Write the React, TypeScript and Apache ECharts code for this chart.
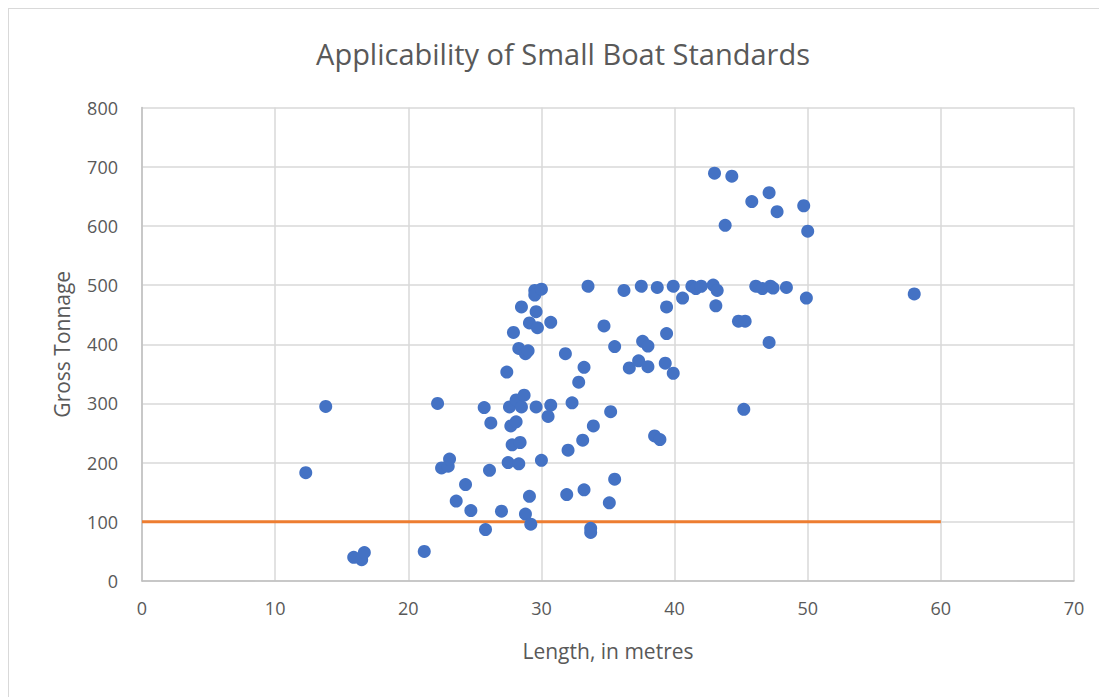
import React, { useEffect, useRef } from "react";
import * as echarts from "echarts";

const TITLE = "Applicability of Small Boat Standards";
const X_NAME = "Length, in metres";
const Y_NAME = "Gross Tonnage";

const lengths = [
  12.3, 13.8, 15.9, 16.5, 16.7, 21.2, 22.2, 22.5, 23.0, 23.1, 23.6, 24.3, 24.7, 25.7, 25.8, 26.1,
  26.2, 27.0, 27.4, 27.5, 27.6, 27.7, 27.8, 27.9, 28.1, 28.1, 28.3, 28.3, 28.4, 28.5, 28.5, 28.7,
  28.8, 28.8, 29.0, 29.1, 29.1, 29.2, 29.5, 29.5, 29.6, 29.6, 29.7, 30.0, 30.0, 30.5, 30.7, 30.7,
  31.8, 31.9, 32.0, 32.3, 32.8, 33.1, 33.2, 33.2, 33.5, 33.7, 33.7, 33.9, 34.7, 35.1, 35.2, 35.5,
  35.5, 36.2, 36.6, 37.3, 37.5, 37.6, 38.0, 38.0, 38.5, 38.7, 38.9, 39.3, 39.4, 39.4, 39.9, 39.9,
  40.6, 41.3, 41.6, 42.0, 42.9, 43.0, 43.1, 43.2, 43.8, 44.3, 44.8, 45.2, 45.3, 45.8, 46.1, 46.6,
  47.1, 47.1, 47.2, 47.4, 47.7, 48.4, 49.7, 49.9, 50.0, 58.0,
];
const tonnages = [
  183, 295, 40, 36, 48, 50, 300, 191, 194, 206, 135, 163, 119, 293, 87, 187,
  267, 118, 353, 200, 294, 262, 230, 420, 306, 269, 198, 393, 234, 463, 294, 314,
  384, 113, 389, 436, 143, 96, 491, 483, 455, 294, 428, 493, 204, 278, 297, 437,
  384, 146, 221, 301, 336, 238, 154, 361, 498, 89, 82, 262, 431, 132, 286, 172,
  396, 491, 360, 372, 498, 405, 397, 362, 245, 496, 239, 368, 463, 418, 351, 498,
  478, 498, 494, 498, 500, 689, 465, 491, 601, 684, 439, 290, 439, 641, 498, 494,
  656, 403, 498, 495, 624, 496, 634, 478, 591, 485,
];

const thresholdX = [0, 60];
const thresholdY = [100, 100];

const X_MIN = 0, X_MAX = 70, X_STEP = 10;
const Y_MIN = 0, Y_MAX = 800, Y_STEP = 100;

export default function App() {
  const ref = useRef<HTMLDivElement>(null);
  useEffect(() => {
    if (!ref.current) return;
    const chart = echarts.init(ref.current, null, { renderer: "svg" });
    const font = "'Open Sans', 'Noto Sans', sans-serif";
    chart.setOption({
      animation: false,
      backgroundColor: "#ffffff",
      graphic: [
        {
          type: "rect",
          shape: { x: 0, y: 0, width: 1300, height: 900 },
          style: { fill: "none", stroke: "#d9d9d9", lineWidth: 2 },
          silent: true,
        },
        {
          type: "text",
          x: 555,
          y: 45,
          style: {
            text: TITLE,
            fill: "#595959",
            font: `29px ${font}`,
            textAlign: "center",
            textVerticalAlign: "middle",
          },
        },
      ],
      grid: { left: 134, top: 99.5, right: 33, bottom: 116, containLabel: false },
      xAxis: {
        type: "value",
        min: X_MIN,
        max: X_MAX,
        interval: X_STEP,
        name: X_NAME,
        nameLocation: "middle",
        nameGap: 59,
        nameTextStyle: { color: "#595959", fontSize: 21, fontFamily: font },
        axisLine: { show: true, lineStyle: { color: "#bfbfbf", width: 1.5 } },
        axisTick: { show: false },
        axisLabel: { color: "#595959", fontSize: 18, fontFamily: font, margin: 18 },
        splitLine: { show: true, lineStyle: { color: "#d9d9d9", width: 1.5 } },
      },
      yAxis: {
        type: "value",
        min: Y_MIN,
        max: Y_MAX,
        interval: Y_STEP,
        name: Y_NAME,
        nameLocation: "middle",
        nameGap: 70,
        nameRotate: 90,
        nameTextStyle: { color: "#595959", fontSize: 21, fontFamily: font },
        axisLine: { show: true, lineStyle: { color: "#bfbfbf", width: 1.5 } },
        axisTick: { show: false },
        axisLabel: { color: "#595959", fontSize: 18, fontFamily: font, margin: 24 },
        splitLine: { show: true, lineStyle: { color: "#d9d9d9", width: 1.5 } },
      },
      series: [
        {
          type: "line",
          data: thresholdX.map((x, i) => [x, thresholdY[i]]),
          showSymbol: false,
          symbol: "none",
          lineStyle: { color: "#ED7D31", width: 3 },
          z: 2,
        },
        {
          type: "scatter",
          data: lengths.map((x, i) => [x, tonnages[i]]),
          symbol: "circle",
          symbolSize: 13,
          itemStyle: { color: "#4472C4", opacity: 1 },
          z: 3,
        },
      ],
    });
    return () => chart.dispose();
  }, []);
  return <div ref={ref} style={{ width: 1099, height: 689 }} />;
}
